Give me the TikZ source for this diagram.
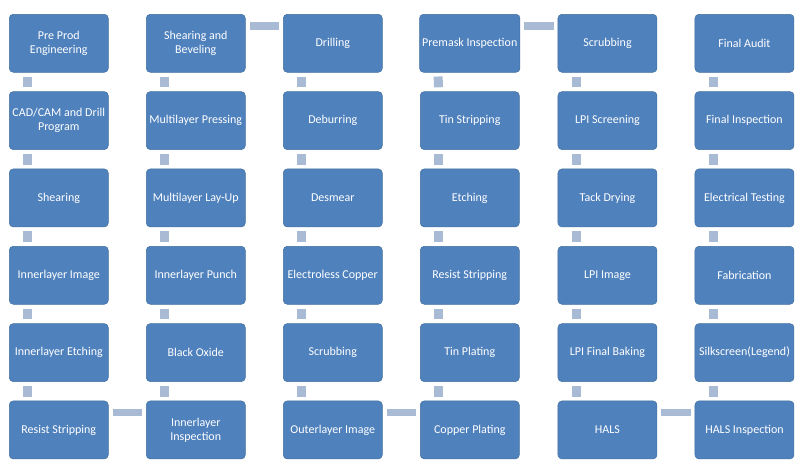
\documentclass[tikz,border=0pt]{standalone}
\usepackage{fontspec}
\setmainfont{Carlito}
\usepackage{xcolor}
\usepackage{tikz}
\usetikzlibrary{positioning}
\definecolor{stepblue}{HTML}{4F81BD}
\definecolor{stepedge}{HTML}{41709F}
\definecolor{linkgray}{HTML}{A8BAD4}
\tikzset{
  stage/.style={
    rectangle,
    rounded corners=3pt,
    draw=stepedge,
    fill=stepblue,
    thin,
    minimum width=74.25pt,
    minimum height=43.5pt,
    align=center,
    text=white,
    inner sep=2pt,
    font=\fontsize{9}{10.5}\selectfont
  },
  vlink/.style={draw=linkgray, line width=6.75pt, shorten <=3pt, shorten >=3pt},
  hlink/.style={draw=linkgray, line width=5.5pt, shorten <=3pt, shorten >=3pt}
}
\begin{document}
\begin{tikzpicture}[node distance=14.1pt and 28.1pt]
\useasboundingbox (0pt,0pt) rectangle (600pt,-351pt);

% column 1 (down)
\node[stage, anchor=north west] (preprod) at (6.75pt,-10.5pt) {Pre Prod\\Engineering};
\node[stage, below=of preprod] (cadcam) {CAD/CAM and Drill\\Program};
\node[stage, below=of cadcam] (shearing) {Shearing};
\node[stage, below=of shearing] (innerimage) {Innerlayer Image};
\node[stage, below=of innerimage] (inneretch) {Innerlayer Etching};
\node[stage, below=of inneretch] (resiststrip) {Resist Stripping};

% column 2 (up)
\node[stage, right=of resiststrip] (innerinsp) {Innerlayer\\Inspection};
\node[stage, above=of innerinsp] (blackoxide) {Black Oxide};
\node[stage, above=of blackoxide] (innerpunch) {Innerlayer Punch};
\node[stage, above=of innerpunch] (layup) {Multilayer Lay-Up};
\node[stage, above=of layup] (pressing) {Multilayer Pressing};
\node[stage, above=of pressing] (beveling) {Shearing and\\Beveling};

% column 3 (down)
\node[stage, right=of beveling] (drilling) {Drilling};
\node[stage, below=of drilling] (deburring) {Deburring};
\node[stage, below=of deburring] (desmear) {Desmear};
\node[stage, below=of desmear] (eless) {Electroless Copper};
\node[stage, below=of eless] (scrub1) {Scrubbing};
\node[stage, below=of scrub1] (outerimage) {Outerlayer Image};

% column 4 (up)
\node[stage, right=of outerimage] (cuplating) {Copper Plating};
\node[stage, above=of cuplating] (tinplating) {Tin Plating};
\node[stage, above=of tinplating] (resiststrip2) {Resist Stripping};
\node[stage, above=of resiststrip2] (etching) {Etching};
\node[stage, above=of etching] (tinstrip) {Tin Stripping};
\node[stage, above=of tinstrip] (premask) {Premask Inspection};

% column 5 (down)
\node[stage, right=of premask] (scrub2) {Scrubbing};
\node[stage, below=of scrub2] (lpiscreen) {LPI Screening};
\node[stage, below=of lpiscreen] (tackdry) {Tack Drying};
\node[stage, below=of tackdry] (lpiimage) {LPI Image};
\node[stage, below=of lpiimage] (lpibake) {LPI Final Baking};
\node[stage, below=of lpibake] (hals) {HALS};

% column 6 (up)
\node[stage, right=of hals] (halsinsp) {HALS Inspection};
\node[stage, above=of halsinsp] (legend) {Silkscreen(Legend)};
\node[stage, above=of legend] (fab) {Fabrication};
\node[stage, above=of fab] (etest) {Electrical Testing};
\node[stage, above=of etest] (finalinsp) {Final Inspection};
\node[stage, above=of finalinsp] (audit) {Final Audit};

% vertical links
\draw[vlink] ([xshift=14pt]preprod.south west) -- ([xshift=14pt]cadcam.north west);
\draw[vlink] ([xshift=14pt]cadcam.south west) -- ([xshift=14pt]shearing.north west);
\draw[vlink] ([xshift=14pt]shearing.south west) -- ([xshift=14pt]innerimage.north west);
\draw[vlink] ([xshift=14pt]innerimage.south west) -- ([xshift=14pt]inneretch.north west);
\draw[vlink] ([xshift=14pt]inneretch.south west) -- ([xshift=14pt]resiststrip.north west);

\draw[vlink] ([xshift=14pt]beveling.south west) -- ([xshift=14pt]pressing.north west);
\draw[vlink] ([xshift=14pt]pressing.south west) -- ([xshift=14pt]layup.north west);
\draw[vlink] ([xshift=14pt]layup.south west) -- ([xshift=14pt]innerpunch.north west);
\draw[vlink] ([xshift=14pt]innerpunch.south west) -- ([xshift=14pt]blackoxide.north west);
\draw[vlink] ([xshift=14pt]blackoxide.south west) -- ([xshift=14pt]innerinsp.north west);

\draw[vlink] ([xshift=14pt]drilling.south west) -- ([xshift=14pt]deburring.north west);
\draw[vlink] ([xshift=14pt]deburring.south west) -- ([xshift=14pt]desmear.north west);
\draw[vlink] ([xshift=14pt]desmear.south west) -- ([xshift=14pt]eless.north west);
\draw[vlink] ([xshift=14pt]eless.south west) -- ([xshift=14pt]scrub1.north west);
\draw[vlink] ([xshift=14pt]scrub1.south west) -- ([xshift=14pt]outerimage.north west);

\draw[vlink] ([xshift=14pt]premask.south west) -- ([xshift=14pt]tinstrip.north west);
\draw[vlink] ([xshift=14pt]tinstrip.south west) -- ([xshift=14pt]etching.north west);
\draw[vlink] ([xshift=14pt]etching.south west) -- ([xshift=14pt]resiststrip2.north west);
\draw[vlink] ([xshift=14pt]resiststrip2.south west) -- ([xshift=14pt]tinplating.north west);
\draw[vlink] ([xshift=14pt]tinplating.south west) -- ([xshift=14pt]cuplating.north west);

\draw[vlink] ([xshift=14pt]scrub2.south west) -- ([xshift=14pt]lpiscreen.north west);
\draw[vlink] ([xshift=14pt]lpiscreen.south west) -- ([xshift=14pt]tackdry.north west);
\draw[vlink] ([xshift=14pt]tackdry.south west) -- ([xshift=14pt]lpiimage.north west);
\draw[vlink] ([xshift=14pt]lpiimage.south west) -- ([xshift=14pt]lpibake.north west);
\draw[vlink] ([xshift=14pt]lpibake.south west) -- ([xshift=14pt]hals.north west);

\draw[vlink] ([xshift=14pt]audit.south west) -- ([xshift=14pt]finalinsp.north west);
\draw[vlink] ([xshift=14pt]finalinsp.south west) -- ([xshift=14pt]etest.north west);
\draw[vlink] ([xshift=14pt]etest.south west) -- ([xshift=14pt]fab.north west);
\draw[vlink] ([xshift=14pt]fab.south west) -- ([xshift=14pt]legend.north west);
\draw[vlink] ([xshift=14pt]legend.south west) -- ([xshift=14pt]halsinsp.north west);

% horizontal links
\draw[hlink] ([yshift=-9pt]resiststrip.north east) -- ([yshift=-9pt]innerinsp.north west);
\draw[hlink] ([yshift=-9pt]beveling.north east) -- ([yshift=-9pt]drilling.north west);
\draw[hlink] ([yshift=-9pt]outerimage.north east) -- ([yshift=-9pt]cuplating.north west);
\draw[hlink] ([yshift=-9pt]premask.north east) -- ([yshift=-9pt]scrub2.north west);
\draw[hlink] ([yshift=-9pt]hals.north east) -- ([yshift=-9pt]halsinsp.north west);

\end{tikzpicture}
\end{document}
